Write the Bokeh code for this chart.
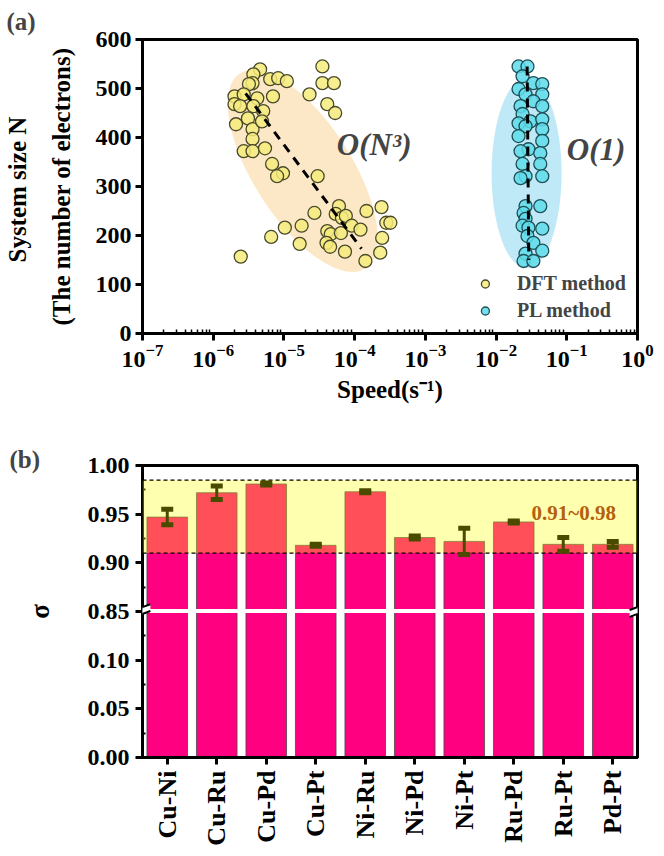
import numpy as np
from bokeh.plotting import figure
from bokeh.models import (ColumnDataSource, Label, Legend, LegendItem, FixedTicker, LinearAxis,
                          Whisker, TeeHead, Span, Arrow, PolyAnnotation, BoxAnnotation)
from bokeh.layouts import column
from bokeh.embed import file_html
from bokeh.resources import INLINE

# ---------------- data: panel (a) ----------------
dft_speed = [4.6e-6, 3.7e-6, 3.6e-6, 6.4e-6, 8.3e-6, 1.1e-5, 3.2e-6, 2.0e-6, 2.7e-6, 4.2e-6,
             7.0e-6, 2.0e-6, 2.4e-6, 3.7e-6, 5.1e-6, 3.1e-6, 2.1e-6, 3.6e-6, 4.9e-6, 3.6e-6,
             2.7e-6, 3.6e-6, 5.4e-6, 6.8e-6, 9.7e-6, 8.0e-6, 2.3e-5, 3.5e-5, 3.5e-5, 5.1e-5,
             4.1e-5, 5.3e-5, 2.7e-5, 6.0e-5, 5.4e-5, 6.6e-5, 7.5e-5, 1.47e-4, 2.4e-4, 2.8e-4,
             3.2e-4, 1.03e-5, 1.78e-5, 6.6e-6, 1.67e-5, 4.1e-5, 4.6e-5, 6.4e-5, 9.1e-5, 1.21e-4,
             4.0e-5, 4.5e-5, 7.3e-5, 1.42e-4, 2.3e-4, 2.45e-4, 2.45e-6, 3.0e-5]
dft_n = [539, 529, 511, 519, 521, 515, 509, 484, 488, 480,
         484, 468, 464, 464, 454, 439, 427, 417, 433, 397,
         372, 372, 378, 346, 327, 321, 488, 545, 511, 511,
         468, 450, 246, 260, 244, 236, 240, 250, 258, 226,
         226, 216, 220, 197, 183, 209, 203, 205, 220, 212,
         185, 177, 167, 148, 165, 195, 157, 321]

pl_speed = [0.0208, 0.0278, 0.0237, 0.0337, 0.045, 0.0208, 0.0261, 0.045, 0.0337, 0.0222,
            0.045, 0.0237, 0.0306, 0.045, 0.0208, 0.0261, 0.045, 0.0208, 0.045, 0.0287,
            0.0222, 0.0422, 0.0237, 0.0422, 0.0261, 0.045, 0.0222,
            0.0261, 0.0422, 0.0245, 0.0261, 0.0237, 0.0287, 0.045, 0.0278, 0.0337, 0.045,
            0.0261, 0.0245, 0.0337]
pl_n = [545, 545, 525, 511, 509, 499, 488, 488, 474, 464,
        464, 448, 433, 437, 429, 423, 417, 403, 393, 376,
        372, 368, 346, 346, 321, 321, 317,
        260, 260, 246, 234, 220, 216, 214, 199, 185, 169,
        163, 148, 148]

dft_fit_speed = [2.87e-6, 1.25e-4]
dft_fit_n = [490, 173]
pl_fit_speed = [0.0275, 0.0290]
pl_fit_n = [545, 150]

x_tick_decades = [1e-7, 1e-6, 1e-5, 1e-4, 1e-3, 1e-2, 1e-1, 1.0]
y_ticks_a = [0, 100, 200, 300, 400, 500, 600]

# ---------------- data: panel (b) ----------------
pairs = ["Cu-Ni", "Cu-Ru", "Cu-Pd", "Cu-Pt", "Ni-Ru", "Ni-Pd", "Ni-Pt", "Ru-Pd", "Ru-Pt", "Pd-Pt"]
sigma = [0.947, 0.972, 0.981, 0.918, 0.973, 0.926, 0.922, 0.942, 0.919, 0.919]
sigma_err = [0.008, 0.007, 0.001, 0.001, 0.001, 0.0015, 0.0135, 0.001, 0.007, 0.003]
band_low, band_high = 0.91, 0.985
y_ticks_b = [0.00, 0.05, 0.10, 0.85, 0.90, 0.95, 1.00]

FONT = "Liberation Serif"


def brk(v):
    # broken axis: 0-0.15 shown as is, 0.85-1.00 mapped onto 0.15-0.30
    return round(v if v < 0.5 else v - 0.70, 6)


def style_axis(ax, tick_size, label_size):
    ax.axis_line_width = 3
    ax.major_tick_line_width = 3
    ax.major_tick_out = 7
    ax.major_tick_in = 0
    ax.major_label_text_font = FONT
    ax.major_label_text_font_style = "bold"
    ax.major_label_text_font_size = tick_size
    ax.major_label_text_color = "black"
    ax.axis_label_text_font = FONT
    ax.axis_label_text_font_style = "bold"
    ax.axis_label_text_font_size = label_size
    ax.axis_label_text_color = "black"


# ================= panel (a) =================
p1 = figure(width=656, height=418, x_axis_type="log", x_range=(1e-7, 1), y_range=(0, 600),
            output_backend="svg", toolbar_location=None,
            min_border_left=140, min_border_right=13, min_border_top=38, min_border_bottom=85)
p1.grid.visible = False
p1.outline_line_color = "black"
p1.outline_line_width = 3
p1.title.text = "(a)"
p1.title.align = "left"
p1.title.offset = -136
p1.title.standoff = 10
p1.title.text_font = FONT
p1.title.text_font_style = "bold"
p1.title.text_font_size = "25px"

# ellipses (screen units)
p1.ellipse(x=[1.84e-5], y=[332], width=232, height=98, angle=-1.0,
           width_units="screen", height_units="screen",
           fill_color="#FCE6C0", fill_alpha=0.9, line_alpha=0)
p1.ellipse(x=[0.027], y=[327], width=70, height=190, angle=0,
           width_units="screen", height_units="screen",
           fill_color="#B9E7F7", fill_alpha=0.9, line_alpha=0)

r_dft = p1.scatter(dft_speed, dft_n, size=13, fill_color="#F6EB7C", fill_alpha=0.85,
                   line_color="#4A4A2A", line_width=1.3)
r_pl = p1.scatter(pl_speed, pl_n, size=13, fill_color="#5EDCEA", fill_alpha=0.85,
                  line_color="#1F4F57", line_width=1.3)

p1.line(dft_fit_speed, dft_fit_n, line_color="black", line_width=3, line_dash="9 7")
p1.line(pl_fit_speed, pl_fit_n, line_color="black", line_width=3, line_dash="9 7")

style_axis(p1.xaxis[0], "24px", "25px")
style_axis(p1.yaxis[0], "24px", "25px")

p1.xaxis.ticker = FixedTicker(ticks=x_tick_decades,
                              minor_ticks=[k * 10.0 ** e for e in range(-7, 0) for k in range(2, 10)])
p1.xaxis.minor_tick_in = 4
p1.xaxis.minor_tick_out = 0
p1.xaxis.minor_tick_line_width = 1.5
p1.xaxis.major_label_standoff = 4
p1.xaxis.axis_label = "Speed(s⁻¹)"
p1.xaxis.axis_label_standoff = 6

p1.yaxis.ticker = FixedTicker(ticks=y_ticks_a, minor_ticks=[])
p1.yaxis.major_label_standoff = 4
p1.yaxis.axis_label = "(The number of electrons)"
p1.yaxis.axis_label_standoff = 18

outer = LinearAxis(axis_label="System size  N", ticker=FixedTicker(ticks=[], minor_ticks=[]),
                   axis_line_alpha=0, major_tick_line_alpha=0, minor_tick_line_alpha=0,
                   major_label_text_font_size="0px", major_tick_out=0, major_tick_in=0,
                   minor_tick_out=0, minor_tick_in=0, axis_label_standoff=14,
                   axis_label_text_font=FONT, axis_label_text_font_style="bold",
                   axis_label_text_font_size="25px", axis_label_text_color="black")
p1.add_layout(outer, "left")

# annotations in the plot
p1.add_layout(Label(x=5.6e-5, y=385, text="O(N³)", text_font=FONT, text_font_style="bold italic",
                    text_font_size="31px", text_align="left", text_baseline="middle"))
p1.add_layout(Label(x=0.1, y=375, text="O(1)", text_font=FONT, text_font_style="bold italic",
                    text_font_size="31px", text_align="left", text_baseline="middle"))

legend = Legend(items=[LegendItem(label="DFT method", renderers=[r_dft]),
                       LegendItem(label="PL method", renderers=[r_pl])],
                location="bottom_right")
legend.label_text_font = FONT
legend.label_text_font_style = "bold"
legend.label_text_font_size = "20px"
legend.background_fill_alpha = 0
legend.border_line_alpha = 0
legend.glyph_width = 20
legend.glyph_height = 21
legend.label_height = 21
legend.label_standoff = 22
legend.spacing = 4
legend.padding = 2
legend.margin = 9
p1.add_layout(legend)

# ================= panel (b) =================
xs = list(range(1, len(pairs) + 1))
p2 = figure(width=656, height=430, x_range=(0.5, len(pairs) + 0.5), y_range=(0, 0.30),
            output_backend="svg", toolbar_location=None,
            min_border_left=137, min_border_right=19, min_border_top=47, min_border_bottom=91)
p2.grid.visible = False
p2.outline_line_color = "black"
p2.outline_line_width = 3
p2.title.text = "(b)"
p2.title.align = "left"
p2.title.offset = -133
p2.title.standoff = -14
p2.title.text_font = FONT
p2.title.text_font_style = "bold"
p2.title.text_font_size = "25px"

tops = [brk(v) for v in sigma]
p2.vbar(x=xs, top=tops, bottom=0, width=0.82, fill_color="#FF0080",
        line_color="#4A4A4A", line_width=0.8)

# break gap across the bars
p2.add_layout(BoxAnnotation(bottom=0.1485, top=0.1525, fill_color="white", fill_alpha=1,
                            line_alpha=0))

# shaded band 0.91~0.98
p2.add_layout(BoxAnnotation(bottom=brk(band_low), top=brk(band_high), fill_color="#FFFF00",
                            fill_alpha=0.31, line_alpha=0))
for lv in (band_low, band_high):
    p2.add_layout(Span(location=brk(lv), dimension="width", line_color="black",
                       line_width=1.2, line_dash="4 3"))

src = ColumnDataSource(dict(x=xs,
                            upper=[brk(v + e) for v, e in zip(sigma, sigma_err)],
                            lower=[brk(v - e) for v, e in zip(sigma, sigma_err)]))
ecol = "#4B4B00"
p2.add_layout(Whisker(source=src, base="x", upper="upper", lower="lower", level="annotation",
                      line_color=ecol, line_width=3,
                      upper_head=TeeHead(size=12, line_width=5, line_color=ecol),
                      lower_head=TeeHead(size=12, line_width=5, line_color=ecol)))

p2.add_layout(Label(x=8.36, y=brk(0.9507), text="0.91~0.98", text_font=FONT,
                    text_font_style="bold", text_font_size="21px", text_color="#B4600F",
                    text_align="left", text_baseline="middle"))

# axis break marks
for xe in (0.5, len(pairs) + 0.5):
    p2.add_layout(PolyAnnotation(xs=[xe - 0.16, xe + 0.16, xe + 0.16, xe - 0.16],
                                 ys=[0.1445, 0.1505, 0.1575, 0.1515],
                                 fill_color="white", fill_alpha=1, line_alpha=0))
    for yc in (0.1475, 0.1545):
        p2.add_layout(Arrow(x_start=xe - 0.16, y_start=yc - 0.003, x_end=xe + 0.16,
                            y_end=yc + 0.003, end=None, start=None, line_width=2,
                            line_color="black"))

style_axis(p2.xaxis[0], "26px", "26px")
style_axis(p2.yaxis[0], "24px", "27px")

p2.xaxis.ticker = FixedTicker(ticks=xs, minor_ticks=[])
p2.xaxis.major_label_overrides = {x: name for x, name in zip(xs, pairs)}
p2.xaxis.major_label_orientation = np.pi / 2
p2.xaxis.major_label_standoff = 6

ytb = [brk(v) for v in y_ticks_b]
p2.yaxis.ticker = FixedTicker(ticks=ytb,
                              minor_ticks=[0.025, 0.075, 0.125, 0.175, 0.225, 0.275])
p2.yaxis.major_label_overrides = {t: "%.2f" % v for t, v in zip(ytb, y_ticks_b)}
p2.yaxis.minor_tick_in = 3
p2.yaxis.minor_tick_out = 0
p2.yaxis.minor_tick_line_width = 2
p2.yaxis.major_label_standoff = 6
p2.yaxis.axis_label = "σ"
p2.yaxis.axis_label_standoff = 30

layout = column(p1, p2)
open("out.html", "w").write(file_html(layout, INLINE))
